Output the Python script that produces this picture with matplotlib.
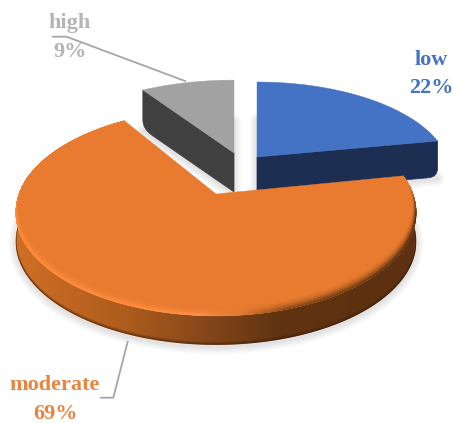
import numpy as np
import matplotlib
matplotlib.use('Agg')
import matplotlib.pyplot as plt
from matplotlib.collections import LineCollection
from matplotlib.colors import LinearSegmentedColormap, to_rgb
from matplotlib.patches import Polygon, PathPatch
from matplotlib.path import Path

labels = ['low', 'moderate', 'high']
shares = [22, 69, 9]

top_colors = ['#4472C4', '#E87B2F', '#A2A2A2']
wall_colors = ['#1C2E52', None, '#404040']
text_colors = ['#4472C4', '#E9843F', '#B4B4B4']

# apex x, apex y, radius x, radius y, wall depth of each slice (pixels)
slice_shape = [
    (257, 157, 190, 88.5, 36),
    (216, 194, 197, 100, 29),
    (234, 153, 196, 86, 39),
]
tilt = 0.18


def Project(shape, angle):
    # angle is clockwise from the top of the pie, in degrees
    x0, y0, rx, ry, depth = shape
    X = np.sin(np.radians(angle))
    Y = np.cos(np.radians(angle))
    w = 1 + tilt * Y
    return x0 + rx * X / w, y0 - ry * Y / w


def Slice_angles():
    edges = np.cumsum([0] + shares) / sum(shares) * 360
    return list(zip(edges[:-1], edges[1:]))


def Top_points(shape, a0, a1):
    ang = np.linspace(a0, a1, 200)
    px, py = Project(shape, ang)
    px = np.r_[shape[0], px]
    py = np.r_[shape[1], py]
    return np.column_stack([px, py])


def Shadow(ax, pts, depth):
    for lw in [2, 5, 8, 11, 14]:
        ax.add_patch(Polygon(pts + [0, depth + 2], closed=True, fc='none', ec='black',
                             lw=lw * 0.72, alpha=0.022, joinstyle='round', zorder=1))


def Flat_wall(ax, shape, tip, color, z):
    # wall under a straight cut, with the outer lower corner rounded
    x0, y0, depth = shape[0], shape[1], shape[4]
    sign = np.sign(tip[0] - x0)
    r = 9
    verts = [(x0, y0), tip, (tip[0], tip[1] + depth - r),
             (tip[0], tip[1] + depth), (tip[0] - sign * r, tip[1] + depth + (y0 - tip[1]) * r / abs(tip[0] - x0)),
             (x0, y0 + depth), (x0, y0)]
    codes = [Path.MOVETO, Path.LINETO, Path.LINETO, Path.CURVE3, Path.CURVE3, Path.LINETO, Path.CLOSEPOLY]
    ax.add_patch(PathPatch(Path(verts, codes), fc=color, ec=color, lw=0.5, zorder=z))


def Moderate_wall(ax, shape, a0, a1):
    depth = shape[4]
    ang = np.linspace(a0, a1, 300)
    px, py = Project(shape, ang)
    outline = np.r_[np.column_stack([px, py]), np.column_stack([px, py + depth])[::-1]]
    patch = Polygon(outline, closed=True, fc='none', ec='none', zorder=4)
    ax.add_patch(patch)

    cmap = LinearSegmentedColormap.from_list('wall', [
        (0.0, '#D06F25'), (0.28, '#AC5C1D'), (0.48, '#84461A'),
        (0.66, '#603311'), (1.0, '#5C3010')])
    im = ax.imshow(np.linspace(0, 1, 256)[None, :], extent=(16, 416, 380, 150), cmap=cmap,
                   aspect='auto', vmin=0, vmax=1, zorder=4)
    im.set_clip_path(patch)

    # dark lower edge of the wall
    for t, alpha in [(0.6, 0.5), (1.6, 0.3), (2.6, 0.15)]:
        ax.plot(px, py + depth - t, color='#3A1E08', lw=1.0, alpha=alpha,
                clip_path=patch, solid_capstyle='butt', zorder=4.1)


def Moderate_rim(ax, shape, a0, a1, top_patch):
    ang = np.linspace(a0, a1, 500)
    px, py = Project(shape, ang)
    cmap = LinearSegmentedColormap.from_list('rim', [
        (0.0, '#FF8C3C'), (0.46, '#FF9048'), (0.58, '#D87530'),
        (0.68, '#8A4A18'), (1.0, '#5E3210')])
    rim = cmap(np.clip((px - 16) / 400, 0, 1))[:, :3]
    face = np.array(to_rgb(top_colors[1]))
    strength = np.clip((py - 185) / 30, 0, 1)

    bevel = 9
    for t in np.linspace(bevel, 0, 28):
        mix = (1 - t / bevel) ** 1.8 * strength
        shift = 0.35 * t * np.sign(px - shape[0])
        qx = px - shift
        qy = py - t
        segs = np.stack([np.column_stack([qx[:-1], qy[:-1]]),
                         np.column_stack([qx[1:], qy[1:]])], axis=1)
        cols = face + (rim - face) * mix[:, None]
        lc = LineCollection(segs, colors=cols[:-1], linewidths=0.9, capstyle='round', zorder=6)
        ax.add_collection(lc)
        lc.set_clip_path(top_patch)


fig = plt.figure(figsize=(4.53, 4.23), dpi=100)
ax = fig.add_axes([0, 0, 1, 1])

angles = Slice_angles()
tops = [Top_points(s, a[0], a[1]) for s, a in zip(slice_shape, angles)]

for pts, s in zip(tops, slice_shape):
    Shadow(ax, pts, s[4])

# high slice
s = slice_shape[2]
tip = Project(s, angles[2][0])
Flat_wall(ax, s, tip, wall_colors[2], 2)
ax.add_patch(Polygon(tops[2], closed=True, fc=top_colors[2], ec=top_colors[2], lw=0.3, zorder=2.1))

# low slice
s = slice_shape[0]
tip = Project(s, angles[0][1])
Flat_wall(ax, s, tip, wall_colors[0], 3)
ax.add_patch(Polygon(tops[0], closed=True, fc=top_colors[0], ec=top_colors[0], lw=0.3, zorder=3.1))

# moderate slice, in front of the others
s = slice_shape[1]
Moderate_wall(ax, s, angles[1][0], angles[1][1])
top_patch = Polygon(tops[1], closed=True, fc=top_colors[1], ec=top_colors[1], lw=0.3, zorder=5)
ax.add_patch(top_patch)
Moderate_rim(ax, s, angles[1][0], angles[1][1], top_patch)

# leader lines
line_color = '#A6A6A6'
ax.plot([185, 66.5, 53], [81, 36.7, 36.7], color=line_color, lw=1.3, zorder=7)
ax.plot([127.7, 113.3, 101], [341.7, 397.7, 397.7], color=line_color, lw=1.3, zorder=7)

# data labels
font = dict(family=['Liberation Serif', 'DejaVu Serif'], fontsize=16, fontweight='bold',
            ha='center', va='center', zorder=8)
label_pos = [(431, 60, 88), (55, 385, 414), (70, 23, 52)]
for name, val, col, pos in zip(labels, shares, text_colors, label_pos):
    ax.text(pos[0], pos[1], name, color=col, **font)
    ax.text(pos[0], pos[2], str(val) + '%', color=col, **font)

ax.set_xlim(0, 453)
ax.set_ylim(423, 0)
ax.axis('off')
fig.savefig('out.png', dpi=100, facecolor='white')
